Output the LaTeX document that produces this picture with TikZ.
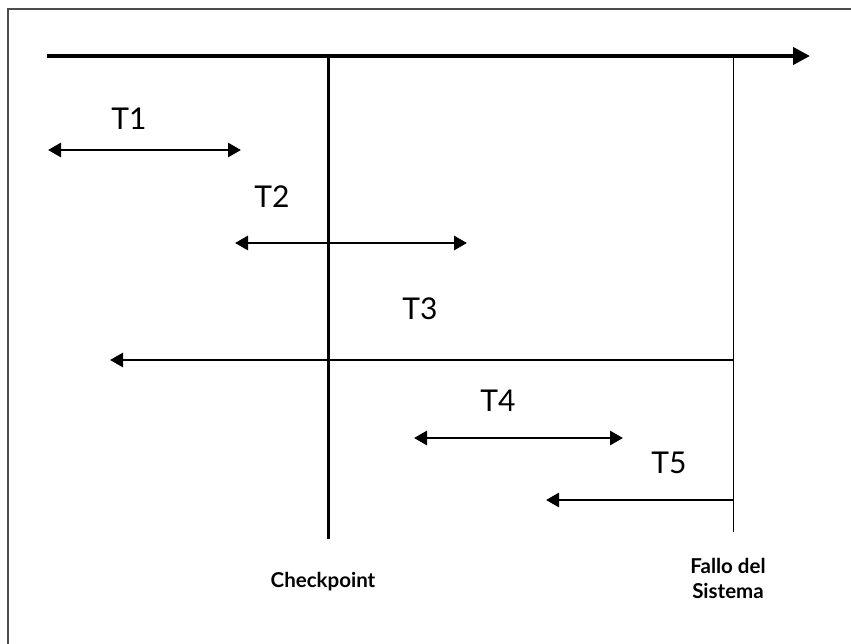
\documentclass[tikz,border=0pt]{standalone}
\usepackage{fontspec}
\setmainfont{Lato}
\usetikzlibrary{arrows.meta}
\begin{document}
\begin{tikzpicture}[x=1pt,y=-1pt,
  axisline/.style={line width=4pt,-{Triangle[length=17pt,width=17pt]}},
  span/.style={line width=2.8pt,{Triangle[length=13pt,width=14pt]}-{Triangle[length=13pt,width=14pt]}},
  backspan/.style={line width=2.8pt,{Triangle[length=13pt,width=14pt]}-},
  mark line/.style={line width=3pt},
  thin mark/.style={line width=1pt},
  tlabel/.style={font=\fontsize{30}{32}\selectfont},
  blabel/.style={font=\bfseries\fontsize{20.5}{25}\selectfont,align=center}]
\useasboundingbox (0,0) rectangle (851,643);
\draw[line width=1.5pt,black!70] (8,700) -- (8,9) -- (900,9);
% coordinates
\coordinate (a0) at (47,56);
\coordinate (a1) at (810,56);
\coordinate (c0) at (328,56);
\coordinate (c1) at (328,539);
\coordinate (f0) at (733,56);
\coordinate (f1) at (733,532);
\coordinate (t1a) at (48,150);
\coordinate (t1b) at (241,150);
\coordinate (t2a) at (235,243);
\coordinate (t2b) at (467,243);
\coordinate (t3a) at (110,360);
\coordinate (t3b) at (733,360);
\coordinate (t4a) at (414,438);
\coordinate (t4b) at (623,438);
\coordinate (t5a) at (546,500);
\coordinate (t5b) at (733,500);
% lines
\draw[mark line] (c0) -- (c1);
\draw[thin mark] (f0) -- (f1);
\draw[axisline] (a0) -- (a1);
\draw[span] (t1a) -- (t1b);
\draw[span] (t2a) -- (t2b);
\draw[backspan] (t3a) -- (t3b);
\draw[span] (t4a) -- (t4b);
\draw[backspan] (t5a) -- (t5b);
% labels
\node[tlabel] (l1) at (129,119) {T1};
\node[tlabel] (l2) at (272,197) {T2};
\node[tlabel] (l3) at (420,309) {T3};
\node[tlabel] (l4) at (498,401) {T4};
\node[tlabel] (l5) at (669,463) {T5};
\node[blabel] (ck) at (323,582) {Checkpoint};
\node[blabel] (fs) at (728,578) {Fallo del\\Sistema};
\end{tikzpicture}
\end{document}
